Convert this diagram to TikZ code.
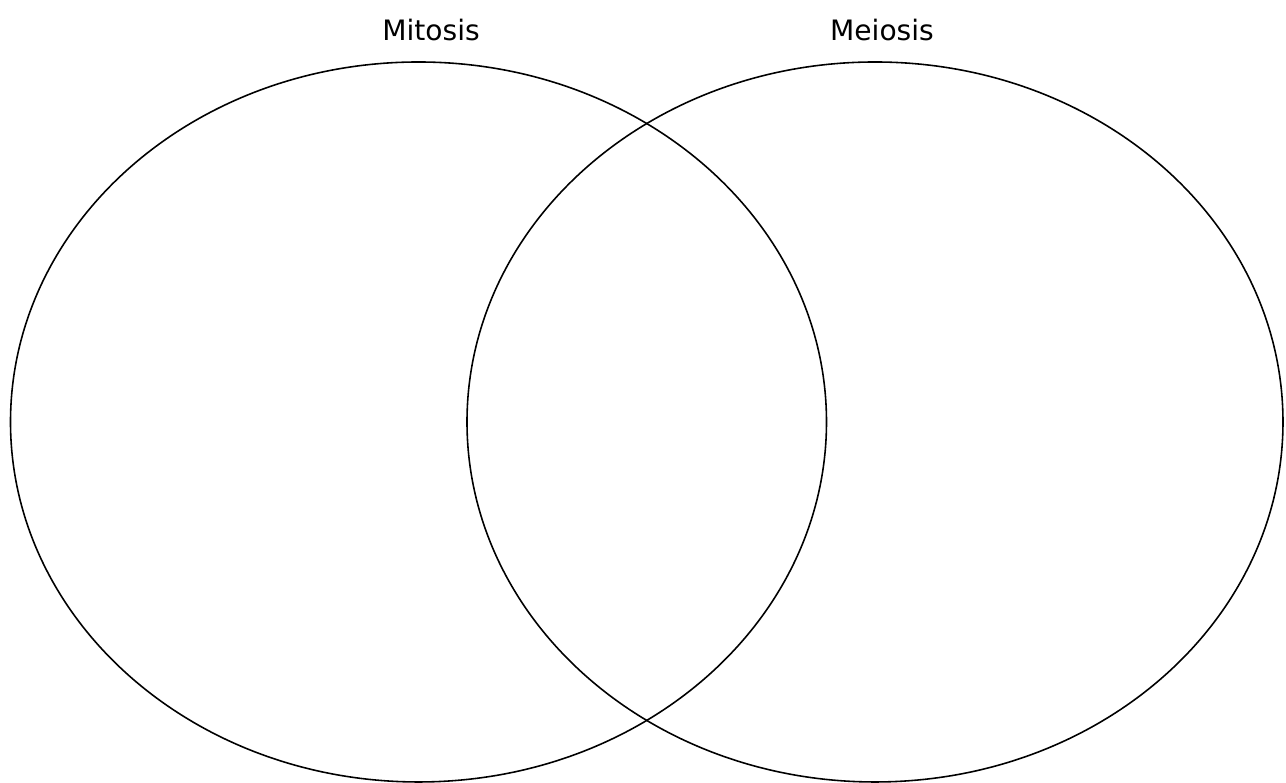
\documentclass[tikz,border=0pt]{standalone}
\usepackage{fontspec}
\setmainfont{DejaVu Sans}
\usetikzlibrary{positioning}

\begin{document}
\begin{tikzpicture}[x=1cm,y=1cm]
\def\Rx{4.08}
\def\Ry{3.60}
\def\Cy{3.61}
\tikzset{setlabel/.style={font=\fontsize{8}{10}\selectfont, inner sep=0pt}}

\useasboundingbox (0,0) rectangle (12.86,7.83);

%left set
\draw[line width=0.45pt] (4.185,\Cy) circle [x radius=\Rx, y radius=\Ry];
%right set
\draw[line width=0.45pt] (8.75,\Cy) circle [x radius=\Rx, y radius=\Ry];

%titles
\node[setlabel] (mitosis) at (4.31,7.53) {Mitosis};
\node[setlabel] (meiosis) at (8.82,7.53) {Meiosis};

\end{tikzpicture}
\end{document}
